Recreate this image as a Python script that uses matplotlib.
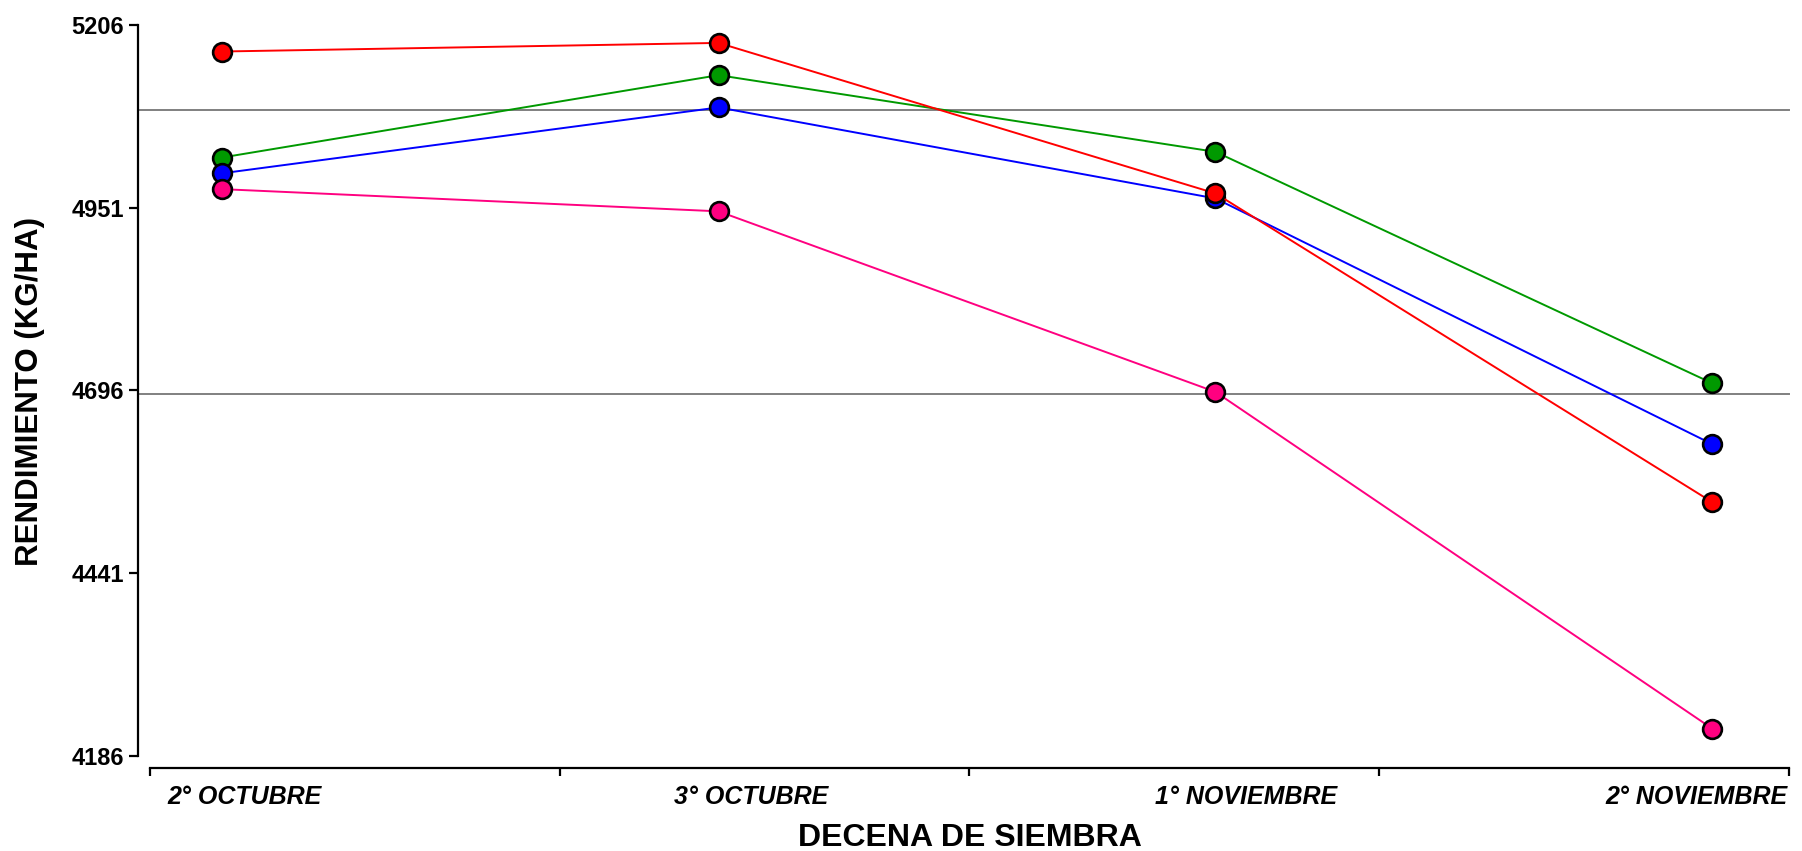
import matplotlib
matplotlib.use("Agg")
import matplotlib.pyplot as plt
import matplotlib.transforms as mtransforms
import numpy as np

# ---- data ----
categories = ["2° OCTUBRE", "3° OCTUBRE", "1° NOVIEMBRE", "2° NOVIEMBRE"]
x_pos = [1, 2, 3, 4]
serie_verde = [5021, 5136, 5029, 4706]
serie_azul = [4999, 5091, 4964, 4621]
serie_rosa = [4977, 4946, 4694, 4224]
serie_roja = [5169, 5181, 4971, 4540]
ref_lines = [5088, 4691]
y_ticks = [4186, 4441, 4696, 4951, 5206]

series = [
    (serie_verde, "#009900"),
    (serie_azul, "#0000FF"),
    (serie_rosa, "#FF0080"),
    (serie_roja, "#FF0000"),
]

plt.rcParams['font.family'] = ['Liberation Sans', 'DejaVu Sans']

W, H = 1802, 851
fig = plt.figure(figsize=(W / 100, H / 100), dpi=100)
ax = fig.add_axes([150 / W, 1 - 756 / H, (1789 - 150) / W, (756 - 25) / H])

xlim = (0.856, 4.154)
ax.set_xlim(*xlim)
ax.set_ylim(4186, 5206)

off_px = 12
for yv in ref_lines:
    ax.axhline(yv, xmin=-off_px / 1639, xmax=1, color="#808080", lw=1.4,
               clip_on=False, zorder=1)

for vals, col in series:
    ax.plot(x_pos, vals, color=col, lw=1.4, marker="o", ms=13.5,
            mfc=col, mec="black", mew=1.9, zorder=3, clip_on=False)

# spines
for s in ["top", "right"]:
    ax.spines[s].set_visible(False)
ax.spines["left"].set_position(("outward", off_px * 0.72))
ax.spines["bottom"].set_position(("outward", off_px * 0.72))
ax.spines["left"].set_linewidth(1.6)
ax.spines["bottom"].set_linewidth(1.6)

# y ticks
ax.set_yticks(y_ticks)
ax.set_yticklabels([str(v) for v in y_ticks], fontsize=17, fontweight="bold")
ax.tick_params(axis="y", direction="out", length=6.5, width=1.6, pad=3.5)

# x ticks: labels at categories, tick marks evenly spaced along the axis
ax.set_xticks(x_pos)
ax.set_xticklabels(categories, fontsize=18, fontweight="bold", style="italic")
ax.tick_params(axis="x", which="major", length=0, pad=12.5)
ax.set_xticks(np.linspace(xlim[0], xlim[1], 5), minor=True)
ax.tick_params(axis="x", which="minor", direction="out", length=6, width=1.6)

shifts_px = [23, 33, 31, -16]
for lab, dx in zip(ax.get_xticklabels(), shifts_px):
    lab.set_transform(lab.get_transform() +
                      mtransforms.ScaledTranslation(dx / 100, 0, fig.dpi_scale_trans))

fig.text(970 / W, 1 - 838 / H, "DECENA DE SIEMBRA", fontsize=23,
         fontweight="bold", ha="center", va="center")
fig.text(30 / W, 1 - 391 / H, "RENDIMIENTO (KG/HA)", fontsize=22.5,
         fontweight="bold", ha="center", va="center", rotation=90)

fig.savefig("out.png", dpi=100, facecolor="white")
